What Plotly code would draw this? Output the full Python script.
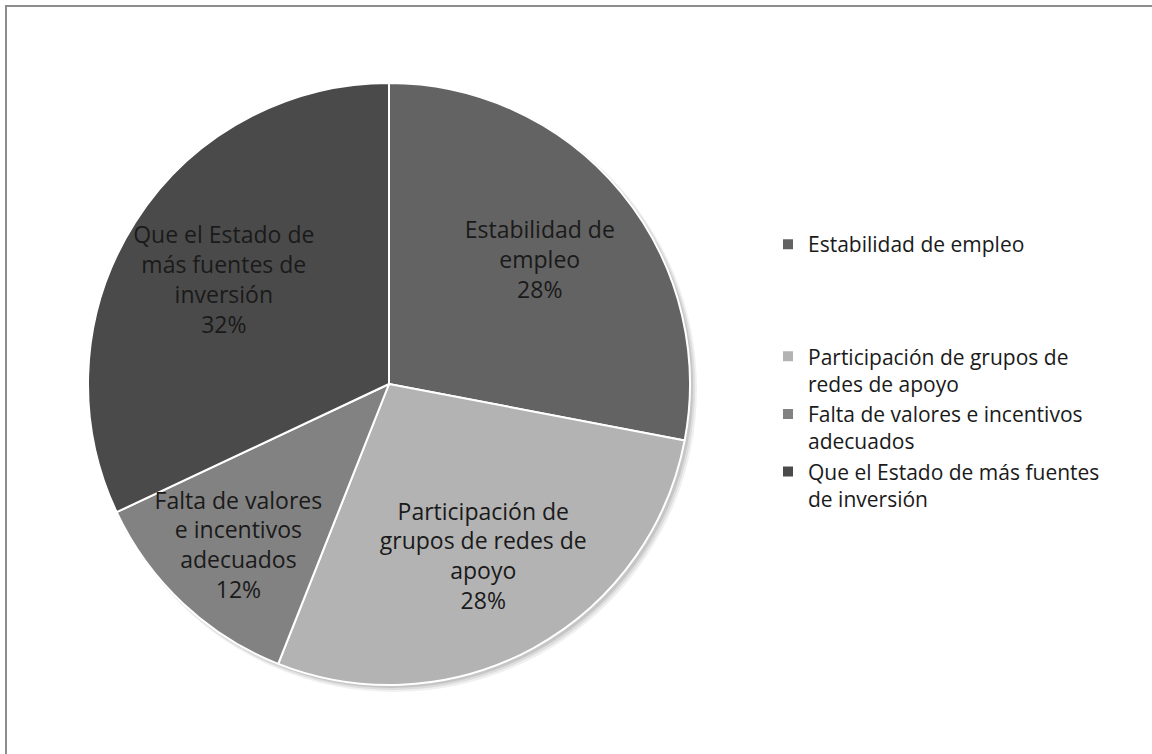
import plotly.graph_objects as go

categories = ["Estabilidad de empleo",
              "Participación de grupos de redes de apoyo",
              "Falta de valores e incentivos adecuados",
              "Que el Estado de más fuentes de inversión"]
values = [28, 28, 12, 32]
slice_labels = ["Estabilidad de<br>empleo",
                "Participación de<br>grupos de redes de<br>apoyo",
                "Falta de valores<br>e incentivos<br>adecuados",
                "Que el Estado de<br>más fuentes de<br>inversión"]
legend_labels = ["Estabilidad de empleo<br> <br> <br> ",
                 "Participación de grupos de<br>redes de apoyo",
                 "Falta de valores e incentivos<br>adecuados",
                 "Que el Estado de más fuentes<br>de inversión"]
colors = ["#636363", "#b3b3b3", "#828282", "#4a4a4a"]

FONT = "Open Sans, sans-serif"
W, H = 1152, 754
cx, cy, r = 389, 384, 301

def dom(dx, dy, dr):
    return dict(x=[(cx - r - dr + dx) / W, (cx + r + dr + dx) / W],
                y=[1 - (cy + r + dr + dy) / H, 1 - (cy - r - dr + dy) / H])

fig = go.Figure()
# soft shadow layers
for (dx, dy, dr, a) in [(5, 5, 2, 0.06), (4, 4, 1, 0.08), (3, 3, 0, 0.10)]:
    fig.add_trace(go.Pie(values=[1], labels=["s"], showlegend=False,
                         textinfo="none", hoverinfo="skip", sort=False,
                         marker=dict(colors=[f"rgba(0,0,0,{a})"], line=dict(width=0)),
                         domain=dom(dx, dy, dr)))

# visible pie with legend
fig.add_trace(go.Pie(
    labels=legend_labels, values=values, showlegend=True,
    textinfo="none", customdata=categories,
    hovertemplate="%{customdata}: %{value}<extra></extra>",
    sort=False, direction="clockwise", rotation=0,
    marker=dict(colors=colors, line=dict(color="white", width=2)),
    domain=dom(0, 0, 0),
))

# transparent ring carrying the slice labels (hole pushes labels outward)
fig.add_trace(go.Pie(
    labels=categories,
    values=values,
    text=slice_labels,
    texttemplate="%{text}<br>%{percent:.0%}",
    hoverinfo="skip",
    showlegend=False,
    textposition="inside",
    insidetextorientation="horizontal",
    textfont=dict(family=FONT, size=23, color="#1a1a1a"),
    marker=dict(colors=["rgba(0,0,0,0)"] * 4, line=dict(width=0)),
    sort=False,
    direction="clockwise",
    rotation=0,
    hole=0.3,
    domain=dom(0, 0, 0),
))

fig.update_layout(
    width=W, height=H,
    margin=dict(l=0, r=0, t=0, b=0),
    paper_bgcolor="white",
    showlegend=True,
    uniformtext=dict(minsize=23, mode="show"),
    legend=dict(
        x=768/W, y=1-224/H, xanchor="left", yanchor="top",
        font=dict(family=FONT, size=21, color="#1a1a1a"),
        valign="top", itemwidth=30, bgcolor="rgba(0,0,0,0)",
        traceorder="normal",
    ),
    shapes=[dict(type="rect", xref="paper", yref="paper",
                 x0=6/W, y0=-0.1, x1=1.1, y1=1-6/H,
                 line=dict(color="#8c8c8c", width=2), fillcolor="rgba(0,0,0,0)")],
)

fig.write_html("out.html", config={"displayModeBar": False},
               post_script="document.body.style.margin='0';")
